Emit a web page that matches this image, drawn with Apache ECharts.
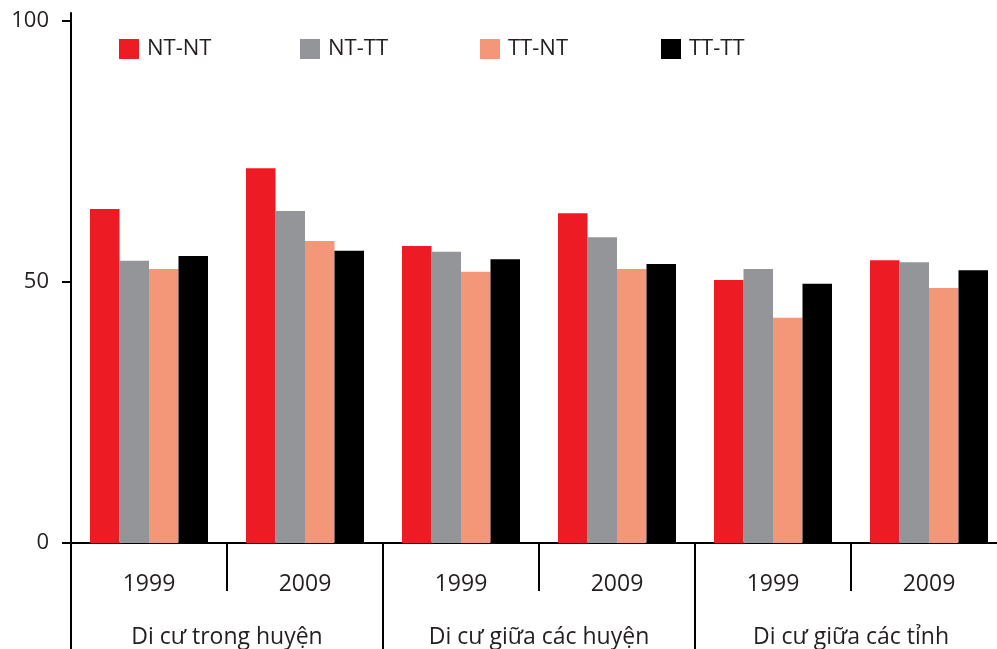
<!DOCTYPE html>
<html>
<head>
<meta charset="utf-8">
<script src="https://cdn.jsdelivr.net/npm/echarts@6/dist/echarts.min.js"></script>
<style>
  html, body { margin: 0; padding: 0; background: #fff; overflow: hidden; }
  #chart { width: 1012px; height: 649px; }
</style>
</head>
<body>
<div id="chart"></div>
<script>
const years = ['1999', '2009', '1999', '2009', '1999', '2009'];
const groups = ['Di cư trong huyện', 'Di cư giữa các huyện', 'Di cư giữa các tỉnh'];
const seriesNames = ['NT-NT', 'NT-TT', 'TT-NT', 'TT-TT'];
const ntnt = [63.9, 71.7, 56.8, 63.1, 50.3, 54.1];
const nttt = [54.0, 63.5, 55.7, 58.5, 52.4, 53.7];
const ttnt = [52.4, 57.8, 51.9, 52.4, 43.1, 48.8];
const tttt = [54.9, 55.9, 54.3, 53.4, 49.6, 52.2];
const yTicks = [0, 50, 100];

const colors = ['#ED1C24', '#939598', '#F49779', '#000000'];
const values = [ntnt, nttt, ttnt, tttt];
const legendLeft = [119, 300, 480, 661];
const font = '"Open Sans", sans-serif';
const textColor = '#231F20';

const chart = echarts.init(document.getElementById('chart'), null, { renderer: 'canvas' });
chart.setOption({
  animation: false,
  backgroundColor: '#ffffff',
  textStyle: { fontFamily: font, color: textColor },
  legend: seriesNames.map((n, i) => ({
    data: [n],
    left: legendLeft[i],
    top: 38,
    padding: 0,
    itemWidth: 20,
    itemHeight: 20,
    icon: 'rect',
    textStyle: { fontFamily: font, fontSize: 22, color: textColor, padding: [0, 0, 0, 3] }
  })),
  grid: { left: 71, right: 5, top: 13, bottom: 104, containLabel: false },
  xAxis: [
    {
      type: 'category',
      data: years,
      position: 'bottom',
      axisLine: { show: true, lineStyle: { color: '#000', width: 2 } },
      axisTick: { show: true, interval: 0, length: 48, lineStyle: { color: '#000', width: 2 } },
      axisLabel: { interval: 0, margin: 30, fontSize: 23, color: textColor, fontFamily: font },
      splitLine: { show: false }
    },
    {
      type: 'category',
      data: groups,
      position: 'bottom',
      axisLine: { show: false },
      axisTick: { show: true, interval: 0, length: 110, lineStyle: { color: '#000', width: 2 } },
      axisLabel: { interval: 0, margin: 83, fontSize: 23, color: textColor, fontFamily: font },
      splitLine: { show: false }
    }
  ],
  yAxis: {
    type: 'value',
    min: 0,
    max: 101.4,
    axisLine: { show: true, lineStyle: { color: '#000', width: 2 } },
    axisTick: { show: true, customValues: yTicks, length: 9, lineStyle: { color: '#000', width: 2 } },
    axisLabel: { customValues: yTicks, margin: 22, fontSize: 22, color: textColor, fontFamily: font },
    splitLine: { show: false }
  },
  series: seriesNames.map((n, i) => ({
    name: n,
    type: 'bar',
    xAxisIndex: 0,
    data: values[i],
    barWidth: 29.5,
    barGap: '0%',
    itemStyle: { color: colors[i] }
  }))
});
</script>
</body>
</html>
